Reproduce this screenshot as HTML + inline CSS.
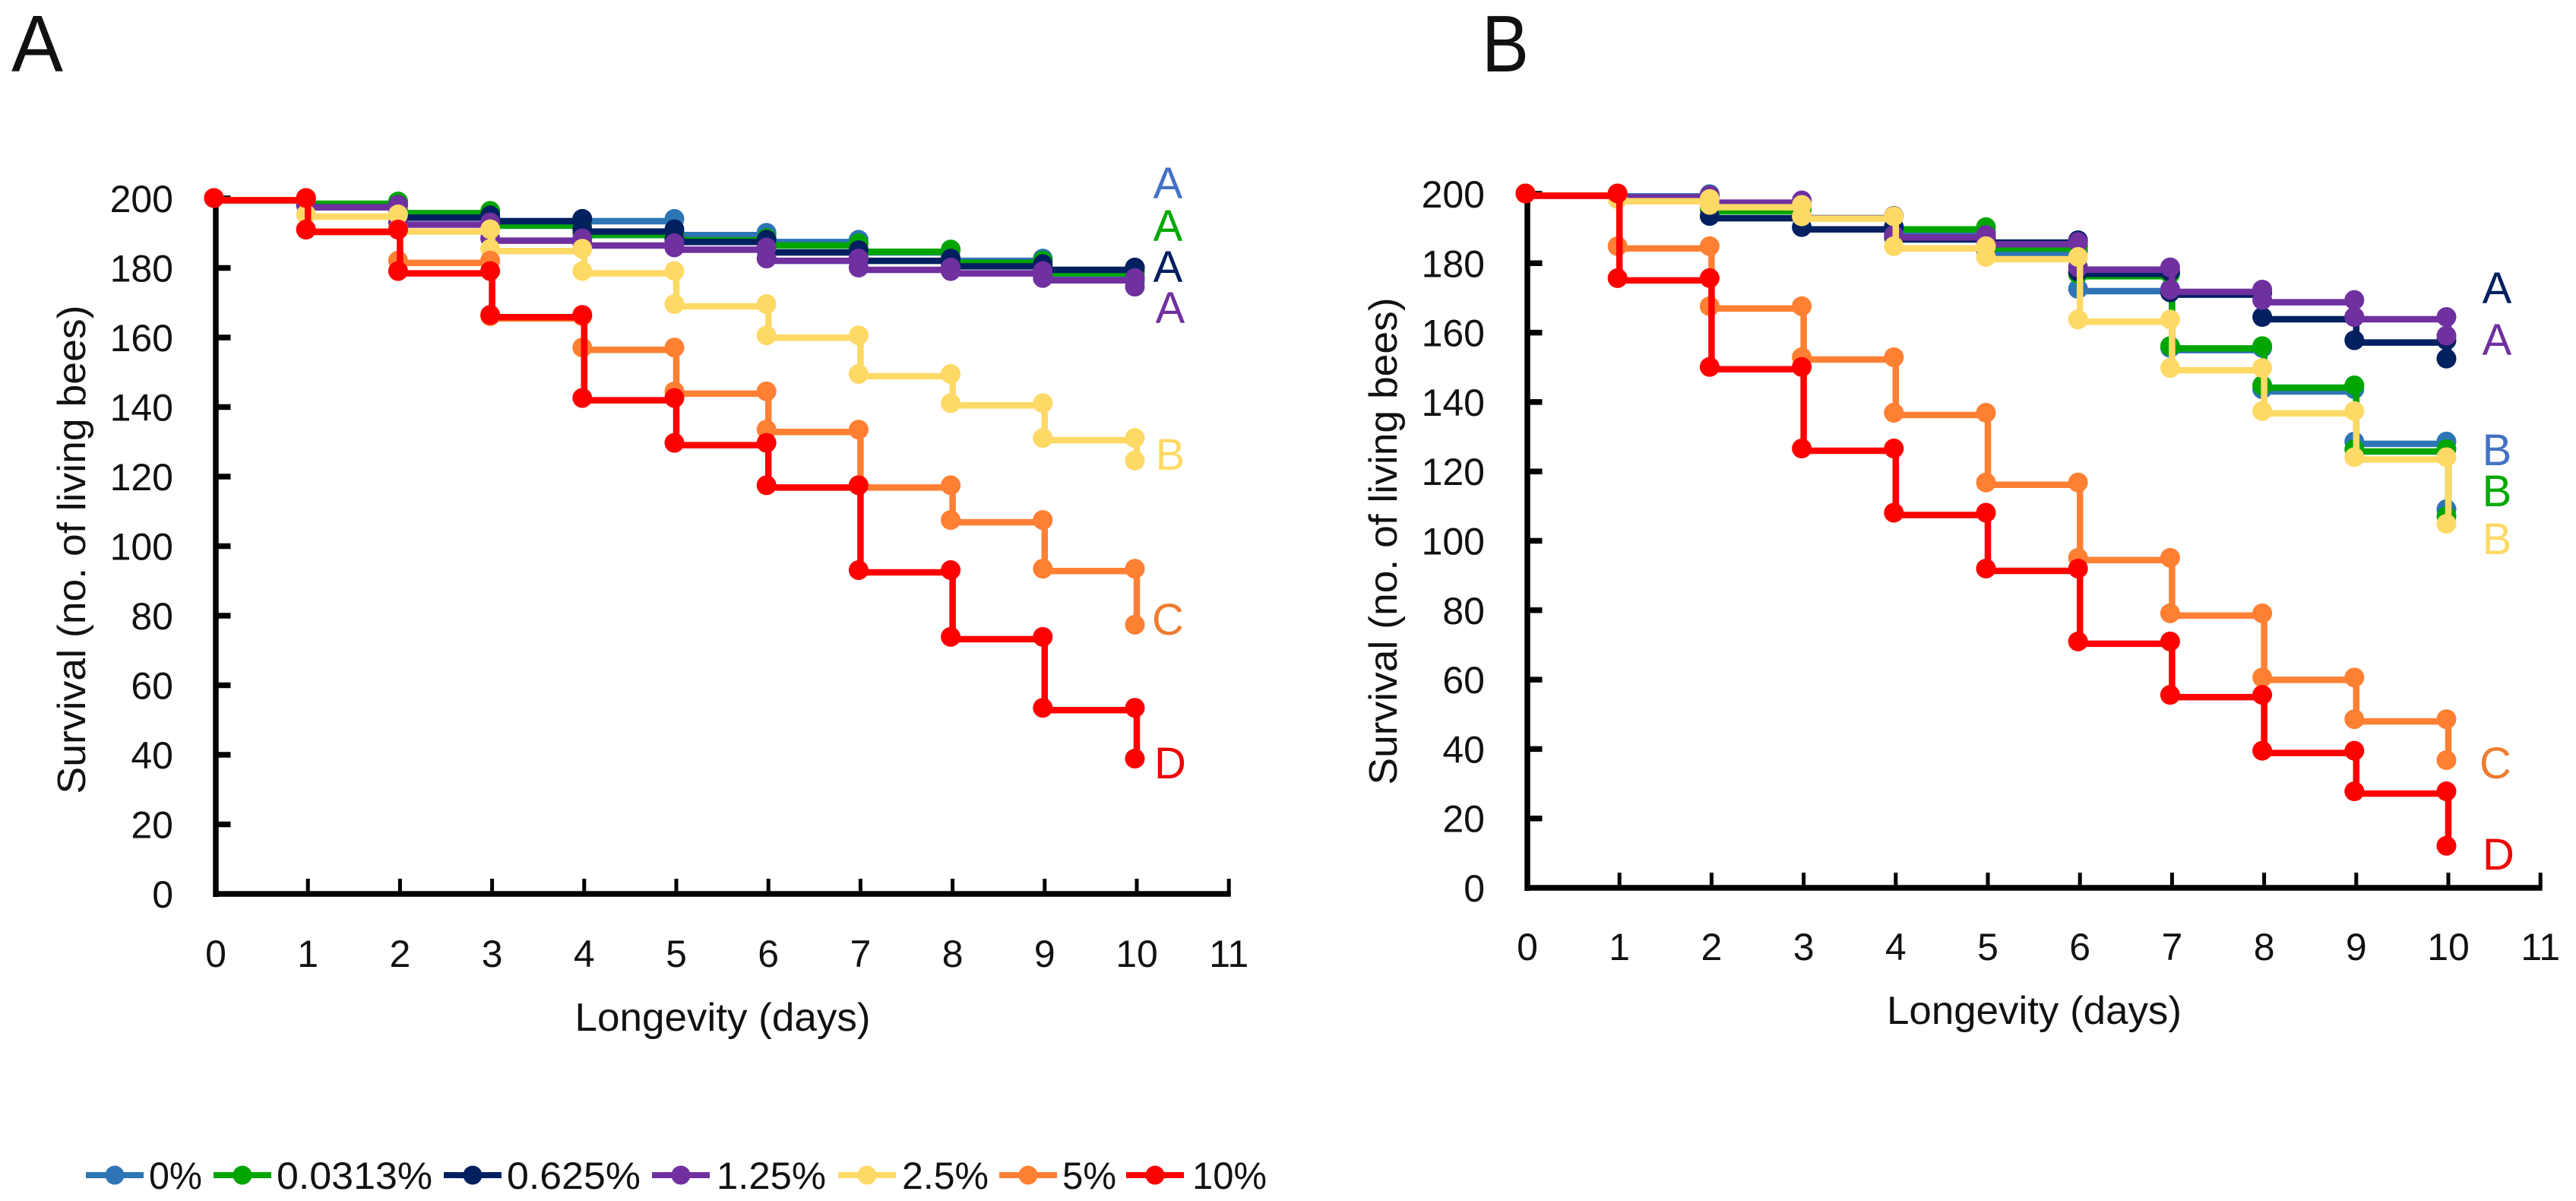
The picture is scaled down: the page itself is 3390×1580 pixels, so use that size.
<!DOCTYPE html>
<html lang="en">
<head>
<meta charset="utf-8">
<title>Survival of bees by concentration</title>
<style>
html,body{margin:0;padding:0;background:#fff;}
svg{display:block;}
text{font-family:"Liberation Sans",sans-serif;fill:#111;}
</style>
</head>
<body>
<svg id="fig" xmlns="http://www.w3.org/2000/svg" width="3390" height="1580" viewBox="0 0 3390 1580">
<rect x="0" y="0" width="3390" height="1580" fill="#fff"/>
<text x="15" y="94" font-size="106" textLength="68" lengthAdjust="spacingAndGlyphs">A</text>
<text x="1950" y="94" font-size="106" textLength="62" lengthAdjust="spacingAndGlyphs">B</text>

<g id="panel-a"></g>
<g id="panel-b"></g>

<text transform="translate(112,723) rotate(-90)" text-anchor="middle" font-size="52" textLength="643" lengthAdjust="spacingAndGlyphs">Survival (no. of living bees)</text>
<text x="951" y="1356" text-anchor="middle" font-size="52" textLength="389" lengthAdjust="spacingAndGlyphs">Longevity (days)</text>
<text transform="translate(1838,712) rotate(-90)" text-anchor="middle" font-size="52" textLength="641" lengthAdjust="spacingAndGlyphs">Survival (no. of living bees)</text>
<text x="2677" y="1347" text-anchor="middle" font-size="52" textLength="388" lengthAdjust="spacingAndGlyphs">Longevity (days)</text>

<g font-size="58" text-anchor="middle">
<text x="1537" y="261" style="fill:#4472c4">A</text>
<text x="1537" y="317" style="fill:#00a800">A</text>
<text x="1537" y="371" style="fill:#002060">A</text>
<text x="1540" y="425" style="fill:#7030a0">A</text>
<text x="1540" y="618" style="fill:#ffd966">B</text>
<text x="1537" y="835" style="fill:#ed7d31">C</text>
<text x="1540" y="1024" style="fill:#f00000">D</text>
</g>
<g font-size="58" text-anchor="middle">
<text x="3286" y="399" style="fill:#002060">A</text>
<text x="3286" y="467" style="fill:#7030a0">A</text>
<text x="3286" y="612" style="fill:#4472c4">B</text>
<text x="3286" y="666" style="fill:#00a800">B</text>
<text x="3286" y="729" style="fill:#ffd966">B</text>
<text x="3284" y="1024" style="fill:#ed7d31">C</text>
<text x="3288" y="1144" style="fill:#f00000">D</text>
</g>

<g id="legend"></g>
</svg>
<script>
// ---- chart data -------------------------------------------------------
const xTickLabels = [0,1,2,3,4,5,6,7,8,9,10,11];
const yTickLabels = [0,20,40,60,80,100,120,140,160,180,200];
const concentrations = ['0%','0.0313%','0.625%','1.25%','2.5%','5%','10%'];

// Panel A: surviving bees at day 0..10
const a0pct    = [200,199,196,194,194,190,188,185,182.6,178.4,176];
const a0313pct = [200,199,196.3,192.7,190,188.5,187,185.2,182,179,177];
const a0625pct = [200,198,195,194,191,188,185,182.6,181,180,180];
const a125pct  = [200,198,193,188.4,187,185.8,182.6,180,179,177,174.5];
const a25pct   = [200,195.3,191,185.4,179,169.5,160.5,149.4,141,131,124.5];
const a5pct    = [200,191,182,166,157,144.4,133.4,117.4,107.4,93.4,77.3];
const a10pct   = [200,190.9,179,166.4,142.5,129.6,117.4,93,73.8,53.4,38.8];

// Panel B: surviving bees at day 0..10
const b0pct    = [200,199.8,196.5,193.5,189,183.5,172.5,155.5,143.6,128.5,109];
const b0313pct = [200,199.5,195.5,193.5,190.3,184.8,176.8,156,144.7,126.3,107];
const b0625pct = [200,199,193.5,190.3,187.4,186.5,177.5,171.5,164.4,157.7,152.4];
const b125pct  = [200,199.5,198,193.5,188,186,178.7,172.3,169.3,164.4,159];
const b25pct   = [200,198.4,196.7,193.4,184.8,181.7,163.7,149.7,137.3,124,104.8];
const b5pct    = [200,184.8,167.5,152.8,136.8,116.7,95,79,60.5,48.5,36.7];
const b10pct   = [200,175.6,150,126.5,108,91.9,70.9,55.5,39.4,27.7,12];

// ---- styling / layout (not data) --------------------------------------
const seriesColors = ['#2e75b6','#00a500','#002060','#7030a0','#ffd966','#ff7f33','#ff0000'];
const seriesA = [a0pct,a0313pct,a0625pct,a125pct,a25pct,a5pct,a10pct];
const seriesB = [b0pct,b0313pct,b0625pct,b125pct,b25pct,b5pct,b10pct];
const legendLineStart = [113,281,584,858,1103,1315,1482];
const legendTextStart = [196,364,667,943,1187,1398,1569];
const legendTextWidth = [70,205,176,144,114,71,98];

const NS = 'http://www.w3.org/2000/svg';
function el(tag, parent){
  const e = document.createElementNS(NS, tag);
  parent.appendChild(e);
  return e;
}

function drawPanel(host, series, cfg, id){
  const xPos = d => cfg.x0 + cfg.dx * d;
  const yPos = v => cfg.y0 - cfg.dy * v;
  const maxY = yTickLabels[yTickLabels.length - 1];
  const maxX = xTickLabels[xTickLabels.length - 1];

  const yAxis = el('line', host);
  
  
  yAxis.setAttribute('x1', xPos(0));
  yAxis.setAttribute('x2', xPos(0));
  yAxis.setAttribute('y1', yPos(maxY) - 4);
  yAxis.setAttribute('y2', yPos(0) + 4);
  yAxis.setAttribute('stroke', '#000');
  yAxis.setAttribute('stroke-width', 7.5);

  const xAxis = el('line', host);
  
  
  xAxis.setAttribute('x1', xPos(0) - 3);
  xAxis.setAttribute('x2', xPos(maxX) + 2.5);
  xAxis.setAttribute('y1', yPos(0));
  xAxis.setAttribute('y2', yPos(0));
  xAxis.setAttribute('stroke', '#000');
  xAxis.setAttribute('stroke-width', 7.5);

  yTickLabels.forEach(t => {
    if (t > 0) {
      const tick = el('line', host);
      
      
      tick.setAttribute('x1', xPos(0));
      tick.setAttribute('x2', xPos(0) + 19.5);
      tick.setAttribute('y1', yPos(t));
      tick.setAttribute('y2', yPos(t));
      tick.setAttribute('stroke', '#000');
      tick.setAttribute('stroke-width', 7.5);
    }
    const lab = el('text', host);
    
    
    lab.setAttribute('x', xPos(0) - 56);
    lab.setAttribute('y', yPos(t) + 18);
    lab.setAttribute('text-anchor', 'end');
    lab.setAttribute('font-size', 50);
    lab.textContent = t;
  });

  xTickLabels.forEach(t => {
    if (t > 0) {
      const tick = el('line', host);
      
      
      tick.setAttribute('x1', xPos(t));
      tick.setAttribute('x2', xPos(t));
      tick.setAttribute('y1', yPos(0));
      tick.setAttribute('y2', yPos(0) - 20);
      tick.setAttribute('stroke', '#000');
      tick.setAttribute('stroke-width', 5);
    }
    const lab = el('text', host);
    
    
    lab.setAttribute('x', xPos(t));
    lab.setAttribute('y', cfg.xLabelBase);
    lab.setAttribute('text-anchor', 'middle');
    lab.setAttribute('font-size', 50);
    lab.textContent = t;
  });

  series.forEach((vals, s) => {
    const g = el('g', host);
    
    

    let d = '';
    vals.forEach((v, i) => {
      if (i === 0) {
        d += 'M' + xPos(0) + ' ' + (yPos(v) + 2.5);
      } else {
        d += 'L' + xPos(i) + ' ' + (yPos(vals[i - 1]) + 2.5);
        d += 'L' + xPos(i) + ' ' + (yPos(v) + 2.5);
      }
    });
    const path = el('path', g);
    
    
    path.setAttribute('d', d);
    path.setAttribute('fill', 'none');
    path.setAttribute('stroke', seriesColors[s]);
    path.setAttribute('stroke-width', 8.5);

    vals.forEach((v, i) => {
      const drawDot = (dayX, val, key) => {
        const c = el('circle', g);
        
        
        c.setAttribute('cx', xPos(dayX) - 2.5);
        c.setAttribute('cy', yPos(val) - 0.5);
        c.setAttribute('r', 13);
        c.setAttribute('fill', seriesColors[s]);
      };
      if (i > 0) drawDot(i, vals[i - 1], 'before-drop-' + i);
      drawDot(i, v, 'day-' + i);
    });
  });
}

drawPanel(document.getElementById('panel-a'), seriesA, {x0:284, dx:121.2, y0:1176, dy:4.575, xLabelBase:1272}, 'a');
drawPanel(document.getElementById('panel-b'), seriesB, {x0:2010, dx:121.2, y0:1168, dy:4.565, xLabelBase:1263}, 'b');

const legendHost = document.getElementById('legend');
concentrations.forEach((name, i) => {
  const g = el('g', legendHost);
  
  

  const ln = el('line', g);
  
  
  ln.setAttribute('x1', legendLineStart[i]);
  ln.setAttribute('x2', legendLineStart[i] + 76);
  ln.setAttribute('y1', 1546);
  ln.setAttribute('y2', 1546);
  ln.setAttribute('stroke', seriesColors[i]);
  ln.setAttribute('stroke-width', 8);

  const dot = el('circle', g);
  
  
  dot.setAttribute('cx', legendLineStart[i] + 38);
  dot.setAttribute('cy', 1546);
  dot.setAttribute('r', 12.5);
  dot.setAttribute('fill', seriesColors[i]);

  const t = el('text', g);
  
  
  t.setAttribute('x', legendTextStart[i]);
  t.setAttribute('y', 1564);
  t.setAttribute('font-size', 50);
  t.setAttribute('textLength', legendTextWidth[i]);
  t.setAttribute('lengthAdjust', 'spacingAndGlyphs');
  t.textContent = name;
});
</script>
</body>
</html>
